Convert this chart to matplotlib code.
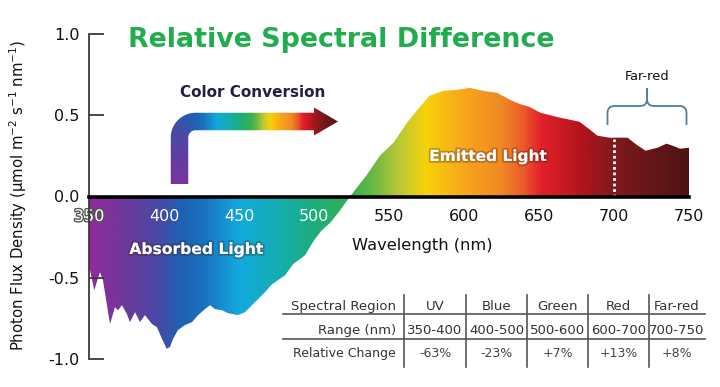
import numpy as np
import matplotlib
matplotlib.use("Agg")
import matplotlib.pyplot as plt
from matplotlib.colors import LinearSegmentedColormap
from matplotlib.path import Path
from matplotlib.patches import PathPatch
import matplotlib.patheffects as pe

plt.rcParams["axes.unicode_minus"] = False
plt.rcParams["font.family"] = ["DejaVu Sans"]

# ---------------- data ----------------
wavelength_nm = [350, 350.7, 353.5, 357.3, 359.3, 364, 367.3, 369.3, 372, 375.3,
                 377.3, 380.7, 384, 387.3, 392, 395.3, 398.7, 401.8, 404, 406,
                 409.3, 414, 418.7, 422.7, 427.3, 430.7, 434, 438.7, 442.7, 449.3,
                 454, 460.7, 467.3, 472, 480.7, 486, 494, 500, 505, 511,
                 517, 524, 535, 544, 553, 562, 569, 577, 586, 595,
                 604, 608, 613, 622, 632, 637, 644, 651, 664, 677, 684, 689,
                 697, 709, 715, 721, 729, 735, 739, 744, 750]
flux_diff = [-0.45, -0.454, -0.577, -0.466, -0.515, -0.785, -0.681, -0.70, -0.669, -0.724,
             -0.773, -0.712, -0.773, -0.73, -0.785, -0.804, -0.877, -0.937, -0.926, -0.877,
             -0.822, -0.791, -0.773, -0.73, -0.693, -0.669, -0.693, -0.70, -0.718, -0.73,
             -0.712, -0.65, -0.589, -0.54, -0.485, -0.417, -0.362, -0.27, -0.21, -0.16,
             -0.09, 0.0, 0.13, 0.252, 0.331, 0.454, 0.534, 0.62, 0.65, 0.656,
             0.669, 0.66, 0.65, 0.638, 0.589, 0.57, 0.55, 0.515, 0.485, 0.46, 0.411, 0.374,
             0.362, 0.362, 0.319, 0.282, 0.30, 0.325, 0.313, 0.294, 0.30]

x_ticks = [350, 400, 450, 500, 550, 600, 650, 700, 750]
y_ticks = [-1.0, -0.5, 0.0, 0.5, 1.0]
y_tick_labels = ["-1.0", "-0.5", "0.0", "0.5", "1.0"]
far_red_start = 700

table_header = ["Spectral Region", "UV", "Blue", "Green", "Red", "Far-red"]
table_range = ["Range (nm)", "350-400", "400-500", "500-600", "600-700", "700-750"]
table_change = ["Relative Change", "-63%", "-23%", "+7%", "+13%", "+8%"]

# spectrum colours (nm -> colour)
spec_nm = [350, 375, 395, 410, 425, 450, 475, 500, 525, 540, 555, 575, 600, 625, 640, 652, 680, 700, 750]
spec_col = ["#902a9c", "#6b3a9c", "#4a48a6", "#2060b3", "#1a70bf", "#12a9de", "#15adb2",
            "#1eae7c", "#36b14f", "#6cb844", "#b4c638", "#f7d20a", "#f8a61c", "#f08a22",
            "#ec5a28", "#e4202a", "#b0141c", "#801a1c", "#4e1214"]
cmap = LinearSegmentedColormap.from_list(
    "spec", [((n - 350) / 400, c) for n, c in zip(spec_nm, spec_col)])

W, H = 720, 387
fig = plt.figure(figsize=(W / 100, H / 100), dpi=100)
ax = fig.add_axes([89 / W, (H - 359) / H, 600 / W, 325 / H])

# gradient fill clipped to the curve
wl = np.asarray(wavelength_nm, float)
fv = np.asarray(flux_diff, float)
verts = [(wl[0], 0.0)] + list(zip(wl, fv)) + [(wl[-1], 0.0), (wl[0], 0.0)]
clip = Path(verts, closed=True)
grad = np.linspace(350, 750, 1200)[None, :]
im = ax.imshow(grad, extent=(350, 750, -1, 1), aspect="auto", cmap=cmap,
               vmin=350, vmax=750, interpolation="bilinear", zorder=1)
im.set_clip_path(clip, ax.transData)

# far-red dotted line
ax.plot([far_red_start, far_red_start], [0, np.interp(far_red_start, wl, fv) - 0.01],
        color="white", lw=2.0, ls=(0, (1, 1)), zorder=2)

ax.set_xlim(350, 750)
ax.set_ylim(-1, 1)
ax.patch.set_alpha(0)
for s in ["top", "right"]:
    ax.spines[s].set_visible(False)
ax.spines["left"].set_bounds(-1, 1)
ax.spines["left"].set_color("#3a3a3a")
ax.spines["left"].set_linewidth(1.3)
ax.spines["bottom"].set_position(("data", 0))
ax.spines["bottom"].set_color("black")
ax.spines["bottom"].set_linewidth(2.6)
ax.spines["bottom"].set_zorder(3)

ax.set_xticks(x_ticks)
ax.set_xticklabels([str(t) for t in x_ticks])
ax.set_yticks(y_ticks)
ax.set_yticklabels(y_tick_labels)
ax.tick_params(axis="x", length=0, pad=9, labelsize=11.5, labelcolor="#111111")
ax.tick_params(axis="y", direction="in", length=11, width=1.3, color="#3a3a3a",
               pad=7, labelsize=11.5, labelcolor="#111111")
for lab, t in zip(ax.get_xticklabels(), x_ticks):
    if t <= 500:
        lab.set_color("white")
    if t == 350:
        lab.set_path_effects([pe.withStroke(linewidth=2, foreground="#555555")])

# ---------------- overlay (pixel coordinates) ----------------
ov = fig.add_axes([0, 0, 1, 1])
ov.axis("off")

# rainbow bent arrow
xa0, xa1, ya0, ya1 = 165.0, 342.0, 102.0, 188.0
xs = np.linspace(xa0, xa1, 500)
ys = np.linspace(ya0, ya1, 250)
X, Y = np.meshgrid(xs, ys)
cxv, cyh, R, ybot, hw = 179.5, 121.5, 16.0, 184.0, 8.75
Cx, Cy = cxv + R, cyh + R
sv = ybot - Cy
S = np.where(Y >= Cy, ybot - Y,
             np.where(X < Cx, sv + R * np.arctan2(Cy - Y, Cx - X),
                      sv + R * np.pi / 2 + (X - Cx)))
s_corner = sv + R * np.pi / 2
s_knots = [0, sv, s_corner, s_corner + (218 - Cx), s_corner + (255 - Cx),
           s_corner + (270 - Cx), s_corner + (290 - Cx), s_corner + (306 - Cx),
           s_corner + (338 - Cx)]
lam_knots = [368, 392, 412, 452, 535, 575, 620, 660, 745]
LAM = np.interp(S, s_knots, lam_knots)
aim = ov.imshow(LAM, extent=(xa0, xa1, ya1, ya0), origin="upper", cmap=cmap,
                vmin=350, vmax=750, interpolation="bilinear", aspect="auto", zorder=2)
Ro, Ri = R + hw, R - hw
th_o = np.linspace(np.pi, 1.5 * np.pi, 30)
th_i = th_o[::-1]
pts = [(cxv - hw, ybot), (cxv - hw, Cy)]
pts += [(Cx + Ro * np.cos(t), Cy + Ro * np.sin(t)) for t in th_o]
pts += [(314, cyh - hw), (314, 107.5), (338, cyh), (314, 135.5), (314, cyh + hw)]
pts += [(Cx + Ri * np.cos(t), Cy + Ri * np.sin(t)) for t in th_i]
pts += [(cxv + hw, ybot), (cxv - hw, ybot)]
aim.set_clip_path(Path(pts, closed=True), ov.transData)

# brace over the far-red region
bc = "#4f7f9f"
for sgn in (-1, 1):
    xe = 647 + sgn * 39.5
    bp = Path([(xe, 125), (xe, 113), (xe, 106), (xe - sgn * 7, 106), (647 + sgn * 7, 106),
               (647, 106), (647, 99), (647, 88)],
              [Path.MOVETO, Path.LINETO, Path.CURVE3, Path.CURVE3, Path.LINETO,
               Path.CURVE3, Path.CURVE3, Path.LINETO])
    ov.add_patch(PathPatch(bp, facecolor="none", edgecolor=bc, lw=1.3, zorder=3))

# table
for yy in (314, 339):
    ov.plot([283, 705], [yy, yy], color="#555555", lw=1.2, zorder=3)
col_sep = [404, 466, 527, 588, 649]
for xx in col_sep:
    ov.plot([xx, xx], [295, 367], color="#555555", lw=1.2, zorder=3)
col_ctr = [435, 496.5, 557.5, 618.5, 677]
rows = [(table_header, 310, 9.5, "#333333"), (table_range, 334, 9.5, "#333333"),
        (table_change, 357, 9.0, "#444444")]
for cells, yb, fs, col in rows:
    ov.text(396, yb, cells[0], ha="right", va="baseline", fontsize=fs, color="#333333")
    for cx, txt in zip(col_ctr, cells[1:]):
        ov.text(cx, yb, txt, ha="center", va="baseline", fontsize=fs, color=col)

# texts
title = ov.text(341, 47, "Relative Spectral Difference", ha="center", va="baseline",
                fontsize=20, fontweight="bold", color="#21ad4e")
cc = ov.text(253, 97, "Color Conversion", ha="center", va="baseline",
             fontsize=11, fontweight="bold", color="#221f47")
glow = [pe.withStroke(linewidth=2.5, foreground=(0.2, 0.08, 0.04, 0.3))]
em = ov.text(488, 161, "Emitted Light", ha="center", va="baseline", fontsize=11,
             fontweight="bold", color="white", path_effects=glow, zorder=4)
ab = ov.text(196, 254, "Absorbed Light", ha="center", va="baseline", fontsize=11,
             fontweight="bold", color="white", path_effects=glow, zorder=4)
wv = ov.text(422, 250, "Wavelength (nm)", ha="center", va="baseline", fontsize=11,
             color="#111111")
fr = ov.text(647, 80, "Far-red", ha="center", va="baseline", fontsize=9.5,
             color="#111111")
yl = ov.text(18, 195, "Photon Flux Density (\u00b5mol m$^{-2}$ s$^{-1}$ nm$^{-1}$)",
             ha="center", va="center", rotation=90, fontsize=11, color="#111111")

ov.set_xlim(0, W)
ov.set_ylim(H, 0)

fig.canvas.draw()
rend = fig.canvas.get_renderer()
for t, w in [(title, 427), (cc, 145), (em, 117), (ab, 133), (wv, 140), (fr, 45)]:
    bb = t.get_window_extent(rend)
    t.set_fontsize(t.get_fontsize() * w / bb.width)
bb = yl.get_window_extent(rend)
yl.set_fontsize(yl.get_fontsize() * 310 / bb.height)

fig.savefig("out.png", dpi=100)
